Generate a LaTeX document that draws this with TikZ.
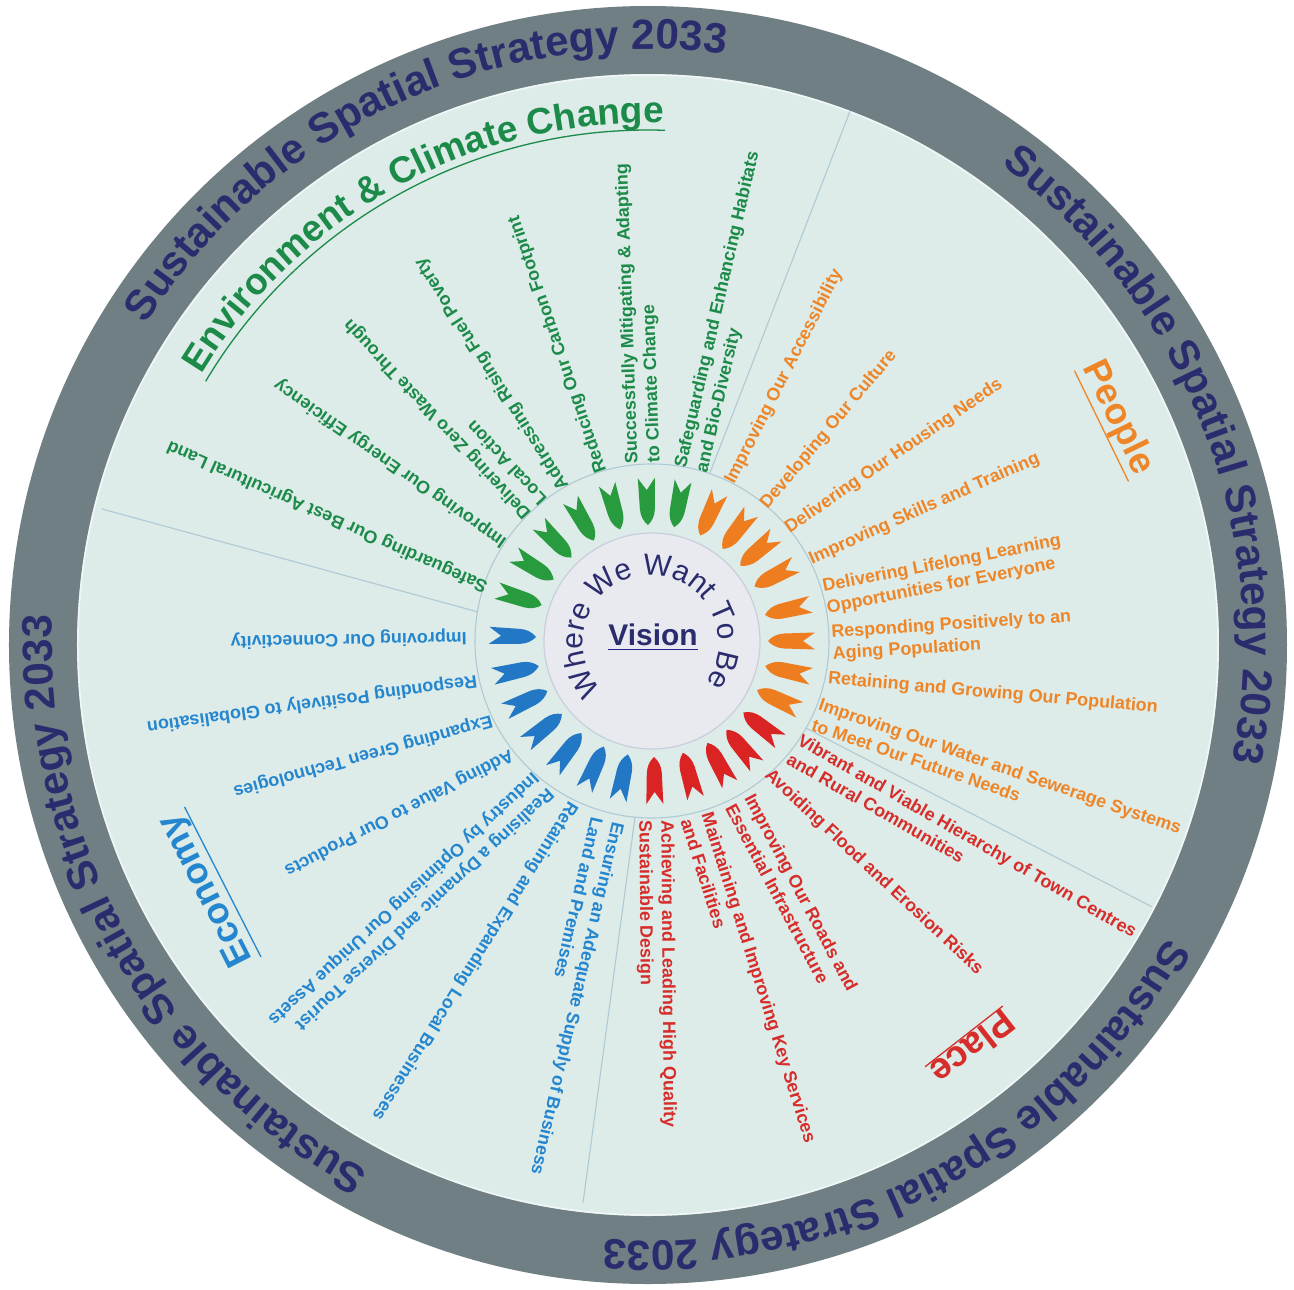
\documentclass[tikz,border=0pt]{standalone}
\usepackage{fontspec}
\setmainfont{Liberation Sans}
\usetikzlibrary{decorations.text}

\definecolor{ringgray}{RGB}{112,127,131}
\definecolor{disc}{RGB}{221,235,233}
\definecolor{navy}{RGB}{43,44,110}
\definecolor{envgreen}{RGB}{28,138,72}
\definecolor{arrgreen}{RGB}{40,155,62}
\definecolor{ppl}{RGB}{238,134,40}
\definecolor{arrorange}{RGB}{238,125,32}
\definecolor{plc}{RGB}{214,45,42}
\definecolor{arrred}{RGB}{218,36,36}
\definecolor{eco}{RGB}{36,134,206}
\definecolor{arrblue}{RGB}{34,120,196}
\definecolor{divline}{RGB}{176,202,212}
\definecolor{visfill}{RGB}{233,234,240}
\definecolor{visedge}{RGB}{200,206,220}

\newcommand{\itemfont}{\fontsize{18}{22}\selectfont\bfseries}
\newcommand{\ringfont}{\fontsize{42.5}{44}\selectfont\bfseries}
\newcommand{\secfont}{\fontsize{37}{40}\selectfont\bfseries}
\newcommand{\wherefont}{\fontsize{30}{31}\selectfont}

\tikzset{
  feather/.pic={\path[pic actions] (116,0) .. controls (120,-4.5) and (125,-7) .. (132,-7.5)
     -- (163,-8.5) -- (151,0) -- (163,8.5) -- (132,7.5)
     .. controls (125,7) and (120,4.5) .. (116,0) -- cycle;},
  itemlbl/.style={font=\itemfont, anchor=west, align=left, inner sep=0pt},
  itemg/.style={itemlbl, text=envgreen},
  itemo/.style={itemlbl, text=ppl},
  itemr/.style={itemlbl, text=plc},
  itemb/.style={itemlbl, text=eco},
  sectitle/.style={font=\secfont, inner sep=1pt},
  divider/.style={draw=divline, line width=1.1bp}
}

\begin{document}
\begin{tikzpicture}[x=1bp,y=1bp]
\useasboundingbox (-648,-645) rectangle (646,645);
\fill[white] (-648,-645) rectangle (646,645);

% rings
\fill[ringgray] (0,0) circle[radius=639];
\fill[disc] (0,0) circle[radius=571];
\draw[white!60!disc, line width=1.5bp] (0,0) circle[radius=570];

% outer ring titles
\foreach \c in {115,21.2,-61.8,209.6}{
  \path[decorate, decoration={text along path,
      text={|\ringfont|Sustainable Spatial Strategy 2033},
      text align=center, text color=navy}]
    ({\c+50}:596) arc[start angle={\c+50}, end angle={\c-50}, radius=596];
}

% dividers and inner circle
\begin{scope}[shift={(4,4)}]
  \draw[divider] (71:177) -- (69.5:566);
  \draw[divider] (-29.5:177) -- (-28:566);
  \draw[divider] (264.5:177) -- (263:566);
  \draw[divider] (170.5:177) -- (166.5:566);
  \draw[divider] (0,0) circle[radius=177];
  \draw[fill=visfill, draw=visedge, line width=1.2bp] (0,0) circle[radius=108];
\end{scope}

% arrows
\foreach \a in {162,148,134,120,106,92,79}
  \pic[fill=arrgreen, rotate=\a] at (4,4) {feather};
\foreach \a in {65.5,52.5,40.5,28,13,0,-12.5,-25}
  \pic[fill=arrorange, rotate=\a] at (4,4) {feather};
\foreach \a in {-38,-50,-61.5,-74.5,-89}
  \pic[fill=arrred, rotate=\a] at (4,4) {feather};
\foreach \a in {178,192.5,205.5,219,232.5,245.5,258}
  \pic[fill=arrblue, rotate=\a] at (4,4) {feather};

% centre
\path[decorate, decoration={text along path,
    text={|\wherefont|Where We Want To Be},
    text align=center, text color=navy}]
  (3,2) ++(223.5:68) arc[start angle=223.5, end angle=-36.5, radius=68];
\node[font=\fontsize{30}{32}\selectfont\bfseries, text=navy, anchor=base, inner sep=0pt] (vision) at (5,0) {Vision};
\draw[navy!80!blue, line width=1.3bp] ([yshift=-4bp]vision.south west) -- ([yshift=-4bp]vision.south east);

% section titles
\path[decorate, decoration={text along path,
    text={|\secfont|Environment {\&} Climate Change},
    text align=center, text color=envgreen}]
  (165:522) arc[start angle=165, end angle=72, radius=522];
\draw[envgreen, line width=1.3bp] (149.2:515) arc[start angle=149.2, end angle=88.1, radius=515];

\node[sectitle, text=ppl, rotate=-64] (people) at (470,227) {People};
\draw[ppl, line width=1.3bp] (people.south west) -- (people.south east);
\node[sectitle, text=plc, rotate=218] (place) at (325,-403) {Place};
\draw[plc, line width=1.3bp] (place.south west) -- (place.south east);
\node[sectitle, text=eco, rotate=117] (economy) at (-441,-245) {Economy};
\draw[eco, line width=1.3bp] (economy.south west) -- (economy.south east);

% green items
\node[itemg, rotate=156] (g1) at (-161,58) {Safeguarding Our Best Agricultural Land};
\node[itemg, rotate=145] (g2) at (-143,102) {Improving Our Energy Efficiency};
\node[itemg, rotate=133] (g3) at (-113,135) {Delivering Zero Waste Through\\Local Action};
\node[itemg, rotate=122.5] (g4) at (-83,157) {Addressing Rising Fuel Poverty};
\node[itemg, rotate=109] (g5) at (-46,173) {Reducing Our Carbon Footprint};
\node[itemg, rotate=92] (g6) at (-4,182) {Successfully Mitigating \& Adapting\\to Climate Change};
\node[itemg, rotate=77] (g7) at (44,175) {Safeguarding and Enhancing Habitats\\and Bio-Diversity};

% orange items
\node[itemo, rotate=63] (o1) at (82,162) {Improving Our Accessibility};
\node[itemo, rotate=50] (o2) at (116,138) {Developing Our Culture};
\node[itemo, rotate=34.5] (o3) at (139,115) {Delivering Our Housing Needs};
\node[itemo, rotate=24] (o4) at (162,85) {Improving Skills and Training};
\node[itemo, rotate=11] (o5) at (177,47) {Delivering Lifelong Learning\\Opportunities for Everyone};
\node[itemo, rotate=3.7] (o6) at (184,1) {Responding Positively to an\\Aging Population};
\node[itemo, rotate=-5] (o7) at (180,-34) {Retaining and Growing Our Population};
\node[itemo, rotate=-19] (o8) at (168,-69) {Improving Our Water and Sewerage Systems\\to Meet Our Future Needs};

% red items
\node[itemr, rotate=-30] (r1) at (146,-103) {Vibrant and Viable Hierarchy of Town Centres\\and Rural Communities};
\node[itemr, rotate=-43] (r2) at (119,-128) {Avoiding Flood and Erosion Risks};
\node[itemr, rotate=-62] (r3) at (92,-155) {Improving Our Roads and\\Essential Infrastructure};
\node[itemr, rotate=-72.5] (r4) at (49,-171) {Maintaining and Improving Key Services\\and Facilities};
\node[itemr, rotate=-89.5] (r5) at (7,-175) {Achieving and Leading High Quality\\Sustainable Design};

% blue items
\node[itemb, rotate=181] (b1) at (-181,8) {Improving Our Connectivity};
\node[itemb, rotate=188] (b2) at (-171,-35) {Responding Positively to Globalisation};
\node[itemb, rotate=195.6] (b3) at (-156,-75) {Expanding Green Technologies};
\node[itemb, rotate=207.6] (b4) at (-136,-108) {Adding Value to Our Products};
\node[itemb, rotate=223] (b5) at (-105,-138) {Realising a Dynamic and Diverse Tourist\\Industry by Optimising Our Unique Assets};
\node[itemb, rotate=238] (b6) at (-75,-158) {Retaining and Expanding Local Businesses};
\node[itemb, rotate=257] (b7) at (-40,-175) {Ensuring an Adequate Supply of Business\\Land and Premises};
\end{tikzpicture}
\end{document}
